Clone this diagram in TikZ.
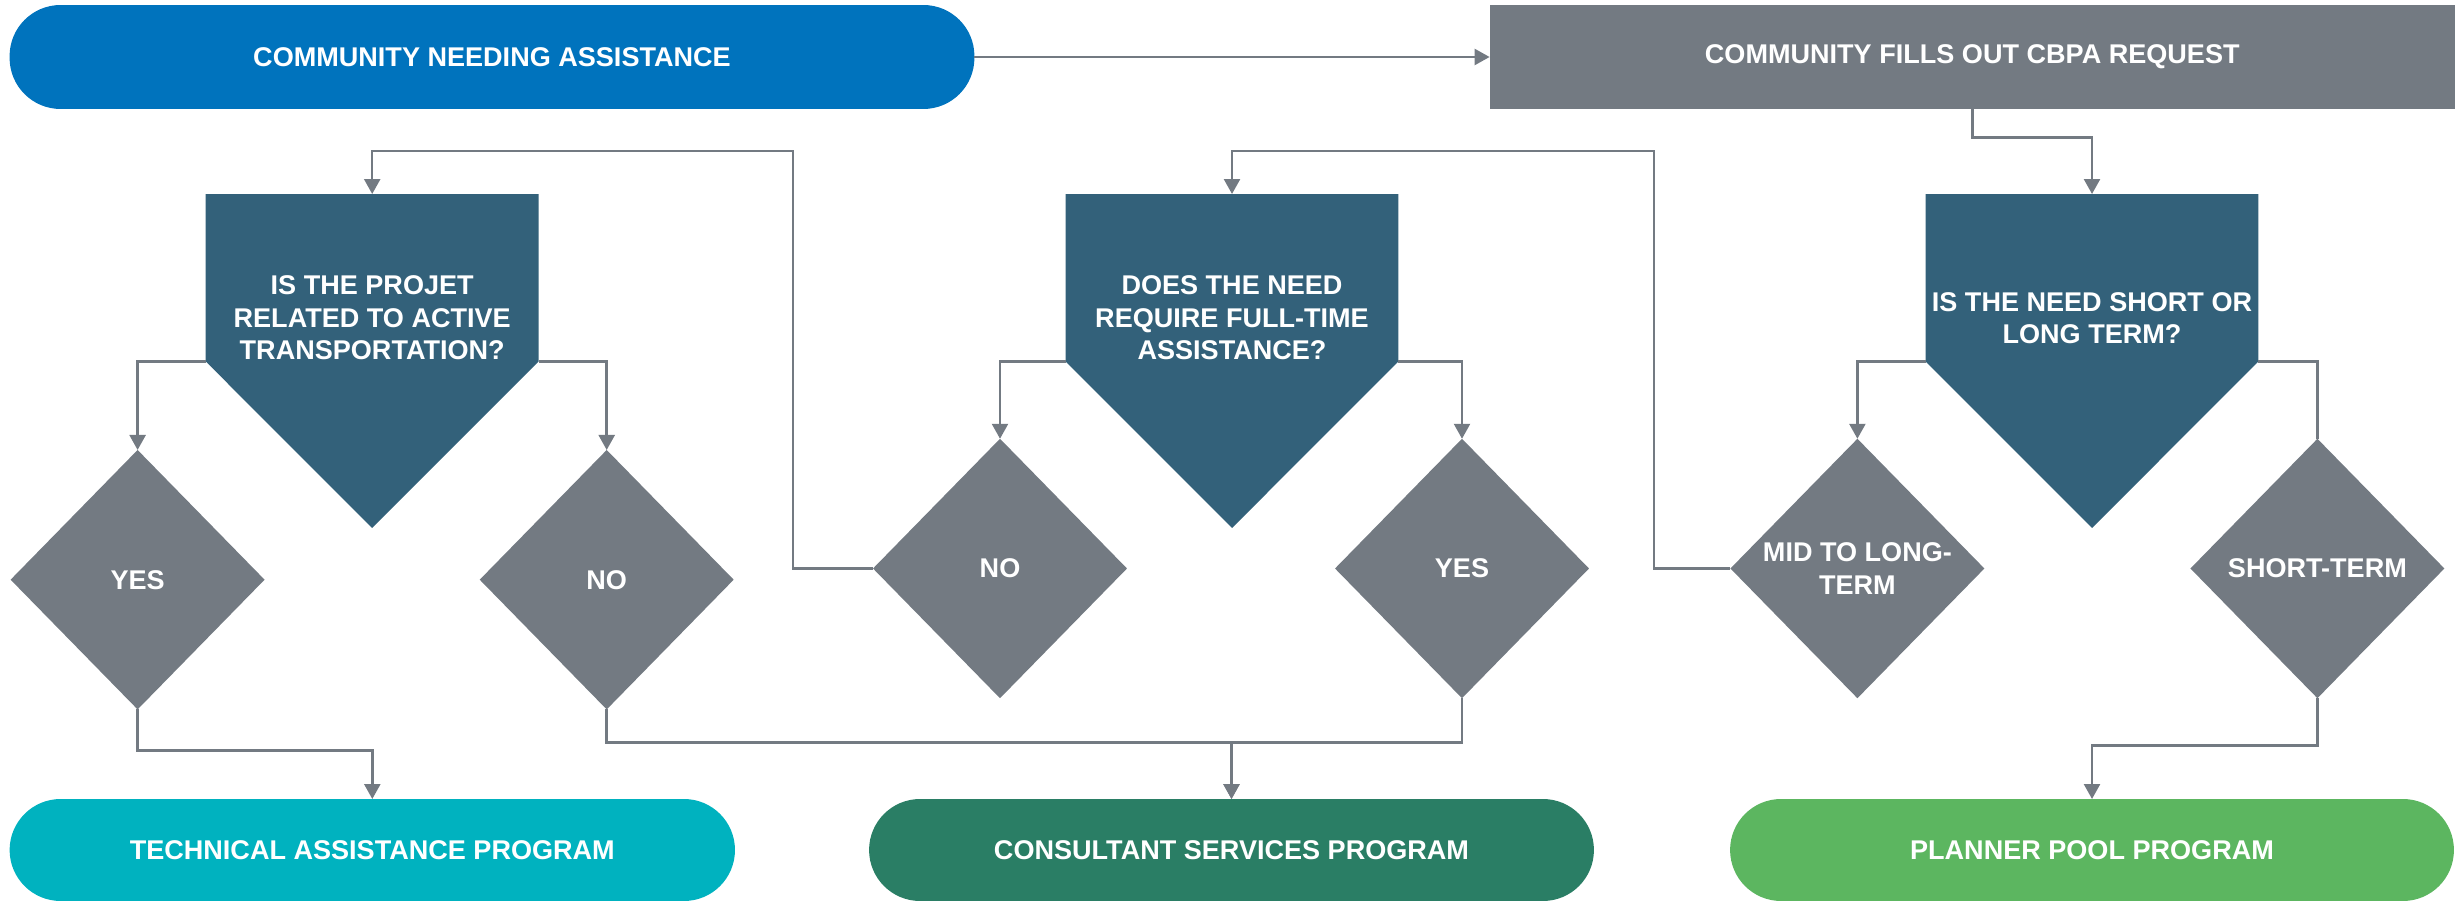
\documentclass[tikz,border=0pt]{standalone}
\usepackage{fontspec}
\setmainfont{Liberation Sans}
\usetikzlibrary{arrows.meta,shapes.geometric}
\definecolor{cblue}{HTML}{0073BD}
\definecolor{cgray}{HTML}{737A82}
\definecolor{cteal}{HTML}{33617A}
\definecolor{ccyan}{HTML}{00B2BF}
\definecolor{cdgreen}{HTML}{2A7E65}
\definecolor{cgreen}{HTML}{5CB660}
\begin{document}
\begin{tikzpicture}[x=0.02cm,y=-0.02cm,
  lbl/.style={text=white,font=\fontsize{15.4pt}{18.5pt}\selectfont\bfseries,align=center},
  stad/.style={lbl,rectangle,rounded corners=1.02cm,minimum height=2.08cm,inner sep=0pt,outer sep=0pt},
  boxq/.style={lbl,rectangle,fill=cgray,minimum height=2.08cm,inner sep=0pt,outer sep=0pt},
  dia/.style={lbl,diamond,fill=cgray,minimum width=5.08cm,minimum height=5.19cm,inner sep=0pt,outer sep=0pt},
  body/.style={rectangle,minimum width=6.66cm,minimum height=3.35cm,inner sep=0pt,outer sep=0pt},
  conn/.style={draw=cgray,line width=1.4pt},
  arr/.style={conn,-{Triangle[length=0.3cm,width=0.32cm]}},
]
\useasboundingbox (0,0) rectangle (2455,901);

% top row
\node[stad,fill=cblue,minimum width=19.3cm] (start) at (492,57) {COMMUNITY NEEDING ASSISTANCE};
\node[boxq,minimum width=19.31cm] (req) at (1972.25,57) {COMMUNITY FILLS OUT CBPA REQUEST};

% question pentagons (body + tip)
\node[body] (p1) at (372.2,277.75) {};
\node[body] (p2) at (1232,277.75) {};
\node[body] (p3) at (2092,277.75) {};
\coordinate (p1tip) at (372.2,528);
\coordinate (p2tip) at (1232,528);
\coordinate (p3tip) at (2092,528);
\foreach \p in {p1,p2,p3}{
  \fill[cteal] (\p.north west) -- (\p.north east) -- (\p.south east) -- (\p tip) -- (\p.south west) -- cycle;
}
\node[lbl] (p1t) at (372.2,318) {IS THE PROJET\\RELATED TO ACTIVE\\TRANSPORTATION?};
\node[lbl] (p2t) at (1232,318) {DOES THE NEED\\REQUIRE FULL-TIME\\ASSISTANCE?};
\node[lbl] (p3t) at (2092,318) {IS THE NEED SHORT OR\\LONG TERM?};

% answer diamonds
\node[dia] (d1) at (137.6,579.7) {YES};
\node[dia] (d2) at (606.7,579.7) {NO};
\node[dia] (d3) at (1000,568.5) {NO};
\node[dia] (d4) at (1462,568.5) {YES};
\node[dia] (d5) at (1857.4,568.5) {MID TO LONG-\\TERM};
\node[dia] (d6) at (2317.4,568.5) {SHORT-TERM};

% programs
\node[stad,fill=ccyan,minimum width=14.51cm,minimum height=2.04cm] (tap) at (372.3,850) {TECHNICAL ASSISTANCE PROGRAM};
\node[stad,fill=cdgreen,minimum width=14.5cm,minimum height=2.04cm] (csp) at (1231.5,850) {CONSULTANT SERVICES PROGRAM};
\node[stad,fill=cgreen,minimum width=14.48cm,minimum height=2.04cm] (ppp) at (2092,850) {PLANNER POOL PROGRAM};

% connectors
\draw[arr] (start.east) -- (req.west);
\draw[arr] (req.south) -- ++(0,28.7) -| (p3.north);

\draw[arr] (p1.south west) -| (d1.north);
\draw[arr] (p1.south east) -| (d2.north);
\draw[arr] (p2.south west) -| (d3.north);
\draw[arr] (p2.south east) -| (d4.north);
\draw[arr] (p3.south west) -| (d5.north);
\draw[conn] (p3.south east) -| (d6.north);

\draw[arr] (d3.west) -| (793,151) -| (p1.north);
\draw[arr] (d5.west) -| (1654,151) -| (p2.north);

\draw[arr] (d1.south) -- ++(0,41.3) -| (tap.north);
\draw[arr] (d2.south) -- ++(0,33.3) -| (csp.north);
\draw[arr] (d4.south) -- ++(0,44.5) -| (csp.north);
\draw[arr] (d6.south) -- ++(0,47.5) -| (ppp.north);
\end{tikzpicture}
\end{document}
